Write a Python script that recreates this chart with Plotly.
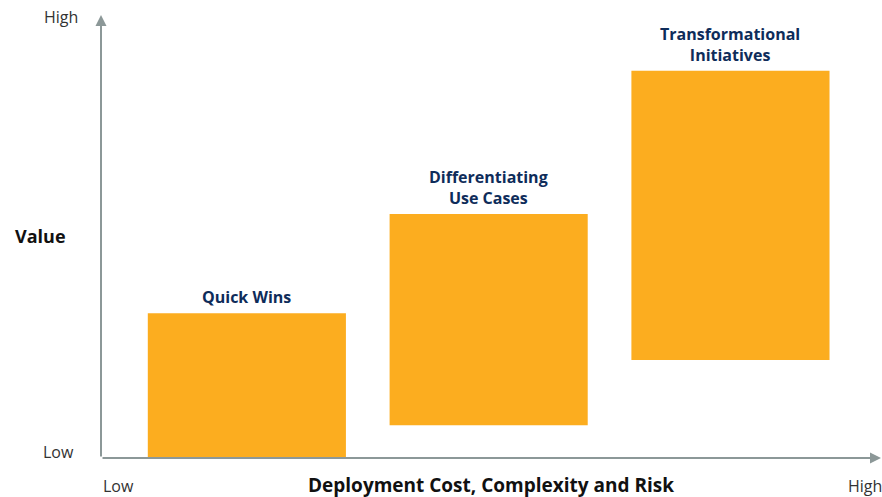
import plotly.graph_objects as go

categories = ["Quick Wins", "Differentiating<br>Use Cases", "Transformational<br>Initiatives"]
x_centers = [18.7, 49.7, 80.7]
bar_bottom = [0.0, 7.4, 22.1]
bar_top = [32.7, 55.1, 87.4]
bar_width = 25.4

BAR = "#FCAD1F"
NAVY = "#0E2C5A"
AXIS = "#8C9898"
FONT = "Open Sans, Arial, sans-serif"

fig = go.Figure()
fig.add_trace(go.Bar(
    x=x_centers,
    y=[t - b for t, b in zip(bar_top, bar_bottom)],
    base=bar_bottom,
    width=bar_width,
    marker=dict(color=BAR, line=dict(width=0)),
    hoverinfo="skip",
))

for name, xc, top in zip(categories, x_centers, bar_top):
    fig.add_annotation(x=xc, y=top, text="<b>%s</b>" % name, showarrow=False,
                       xref="x", yref="y", yanchor="bottom", yshift=3,
                       font=dict(family=FONT, size=16, color=NAVY))

# axis arrows
fig.add_annotation(x=0, y=100, ax=0, ay=0, xref="x", yref="y", axref="x", ayref="y",
                   showarrow=True, arrowhead=2, arrowsize=1.1, arrowwidth=2, arrowcolor=AXIS, text="")
fig.add_annotation(x=100, y=0, ax=0, ay=0, xref="x", yref="y", axref="x", ayref="y",
                   showarrow=True, arrowhead=2, arrowsize=1.1, arrowwidth=2, arrowcolor=AXIS, text="")

labels = [
    ("High", -0.0513, 0.9955, False, 16),
    ("Low", -0.055, 0.0135, False, 16),
    ("Value", -0.078, 0.501, True, 18),
    ("Low", 0.0218, -0.0632, False, 16),
    ("High", 0.9795, -0.0632, False, 16),
    ("Deployment Cost, Complexity and Risk", 0.5006, -0.0600, True, 19),
]
for txt, px, py, bold, sz in labels:
    fig.add_annotation(x=px, y=py, xref="paper", yref="paper", showarrow=False,
                       text=("<b>%s</b>" % txt) if bold else txt,
                       xanchor="center", yanchor="middle",
                       font=dict(family=FONT, size=sz, color="#111111" if bold else "#333333"))

fig.update_layout(
    width=882, height=497,
    margin=dict(l=101, r=1, t=15, b=39),
    plot_bgcolor="white", paper_bgcolor="white",
    showlegend=False,
    xaxis=dict(range=[0, 100], visible=False, fixedrange=True),
    yaxis=dict(range=[0, 100], visible=False, fixedrange=True),
)

fig.write_html("out.html", config={"displayModeBar": False},
               post_script="document.body.style.margin='0';document.body.style.overflow='hidden';")
